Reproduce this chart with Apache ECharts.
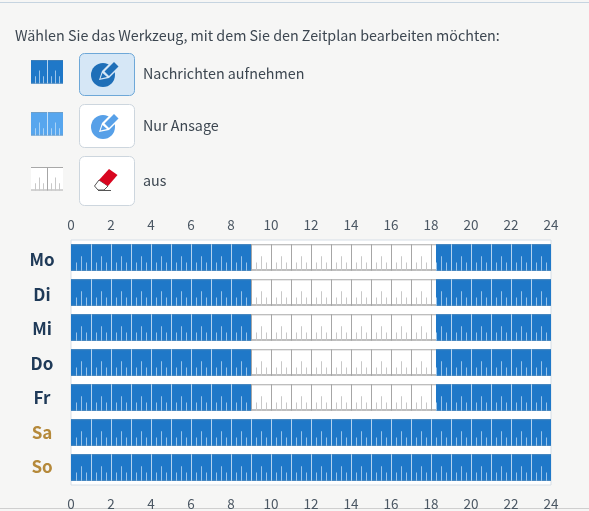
<!DOCTYPE html>
<html>
<head>
<meta charset="utf-8">
<script src="https://cdn.jsdelivr.net/npm/echarts@6/dist/echarts.min.js"></script>
<style>
  html, body { margin: 0; padding: 0; background: #f6f6f5; }
  #chart { width: 589px; height: 511px; }
</style>
</head>
<body>
<div id="chart"></div>
<script>
// values
const days = ['Mo', 'Di', 'Mi', 'Do', 'Fr', 'Sa', 'So'];
const hourTicks = 2;
const weekdaySlotStarts = [0, 9, 18.25];
const weekdaySlotEnds = [9, 18.25, 24];
const weekdaySlotStates = ['record', 'off', 'record'];
const weekendSlotStarts = [0];
const weekendSlotEnds = [24];
const weekendSlotStates = ['record'];

const FONT = '"Noto Sans CJK SC", "Noto Sans", sans-serif';

const styles = {
  record: { fill: '#1f78c8', hour: '#b5d3ee', tick: '#9ac3e8', edge: '#3f7fb8', bottom: 1 },
  announce: { fill: '#57a6ee', hour: '#c4e0f8', tick: '#a9d2f5', edge: '#6f9fc8', bottom: 1 },
  off: { fill: '#ffffff', hour: '#a6a6a6', tick: '#c8c8c8', edge: '#a8a8a8', bottom: 1.5 }
};

// one ruler piece: coloured block, edges, hour lines, half and quarter ticks
function rulerChildren(x1, x2, top, h, startHour, endHour, pxPerHour, s) {
  const kids = [
    { type: 'rect', shape: { x: x1, y: top, width: x2 - x1, height: h }, style: { fill: s.fill } },
    { type: 'rect', shape: { x: x1, y: top, width: x2 - x1, height: 1 }, style: { fill: s.edge } },
    { type: 'rect', shape: { x: x1, y: top + h - s.bottom, width: x2 - x1, height: s.bottom }, style: { fill: s.edge } }
  ];
  for (let q = Math.ceil(startHour * 4); q < endHour * 4; q++) {
    const x = Math.round(x1 + (q / 4 - startHour) * pxPerHour);
    let len = h * 0.31, col = s.tick;
    if (q % 4 === 0) { len = h; col = s.hour; }
    else if (q % 2 === 0) { len = h * 0.55; }
    if (q === 0) continue;
    kids.push({ type: 'rect', shape: { x: x, y: top + h - len, width: 1, height: len }, style: { fill: col } });
  }
  return kids;
}

function renderSlot(params, api) {
  const start = api.value(0), end = api.value(1), day = api.value(2);
  const s = styles[api.value(3)];
  const a = api.coord([start, day]);
  const b = api.coord([end, day]);
  const h = api.size([0, 1])[1] * 0.757;
  return {
    type: 'group',
    children: rulerChildren(a[0], b[0], a[1] - h / 2, h, start, end, (b[0] - a[0]) / (end - start), s)
  };
}

function slotRows() {
  const rows = [];
  days.forEach(function (d, i) {
    const weekend = i > 4;
    const starts = weekend ? weekendSlotStarts : weekdaySlotStarts;
    const ends = weekend ? weekendSlotEnds : weekdaySlotEnds;
    const states = weekend ? weekendSlotStates : weekdaySlotStates;
    starts.forEach(function (st, k) { rows.push([st, ends[k], i, states[k]]); });
  });
  return rows;
}

function label(x, y, txt, size, color) {
  return { type: 'text', x: x, y: y, style: { text: txt, fontFamily: FONT, fontSize: size, fill: color, verticalAlign: 'middle' } };
}

function button(y, h, fill, stroke) {
  return { type: 'rect', shape: { x: 79.5, y: y + 0.5, width: 55, height: h, r: 5 }, style: { fill: fill, stroke: stroke, lineWidth: 1 } };
}

function swatch(y, s) {
  return { type: 'group', children: rulerChildren(31, 63, y, 23.5, 0, 2, 16, Object.assign({}, s, { bottom: 1 })) };
}

function pencilIcon(cy, color, outline) {
  return {
    type: 'group',
    children: [
      { type: 'circle', shape: { cx: 103, cy: cy, r: 12 }, style: { fill: color } },
      // halo round the pencil
      { type: 'polygon', shape: { points: [[99, cy + 5], [102, cy - 4], [113, cy - 15], [120, cy - 8], [109, cy + 3]] }, style: { fill: outline } },
      // shaft
      { type: 'polygon', shape: { points: [[104.5, cy - 3.5], [114, cy - 13], [118.5, cy - 8.5], [109, cy + 1]] }, style: { fill: color } },
      // tip
      { type: 'polygon', shape: { points: [[100.5, cy + 3.5], [102.5, cy - 2], [107, cy + 2]] }, style: { fill: color } }
    ]
  };
}

function eraserIcon() {
  return {
    type: 'group',
    children: [
      { type: 'polygon', shape: { points: [[99, 180], [108, 186], [104, 190], [98, 190], [94.5, 186]] }, style: { fill: '#ffffff', stroke: '#555555', lineWidth: 1 } },
      { type: 'polygon', shape: { points: [[99, 180], [109, 169], [117.5, 175], [108, 186]] }, style: { fill: '#d8051f' } },
      { type: 'line', shape: { x1: 98, y1: 190.5, x2: 111, y2: 190.5 }, style: { stroke: '#555555', lineWidth: 1 } }
    ]
  };
}

const myChart = echarts.init(document.getElementById('chart'));

const hourAxis = {
  type: 'value',
  gridIndex: 0,
  min: 0,
  max: 24,
  interval: hourTicks,
  axisLine: { show: false },
  axisTick: { show: false },
  splitLine: { show: false }
};

myChart.setOption({
  backgroundColor: '#f6f6f5',
  animation: false,
  grid: [{
    show: true,
    left: 71,
    top: 240,
    width: 480,
    height: 245,
    backgroundColor: '#ffffff',
    borderColor: '#d6dee6',
    borderWidth: 1
  }, {
    // day names sit slightly tighter than the rows
    left: 71,
    top: 242.5,
    width: 480,
    height: 241.5
  }],
  xAxis: [
    Object.assign({}, hourAxis, {
      position: 'top',
      axisLabel: { margin: 8, fontFamily: FONT, fontSize: 13.5, color: '#4b5763' }
    }),
    Object.assign({}, hourAxis, {
      position: 'bottom',
      axisLabel: { margin: 12, fontFamily: FONT, fontSize: 13.5, color: '#4b5763' }
    }),
    { type: 'value', gridIndex: 1, show: false }
  ],
  yAxis: [{
    type: 'category',
    gridIndex: 0,
    inverse: true,
    data: days,
    axisLine: { show: false },
    axisTick: { show: false },
    axisLabel: { show: false }
  }, {
    type: 'category',
    gridIndex: 1,
    inverse: true,
    data: days,
    axisLine: { show: false },
    axisTick: { show: false },
    axisLabel: {
      margin: 29,
      align: 'center',
      fontFamily: FONT,
      fontSize: 17,
      fontWeight: 'bold',
      color: function (v) { return v === 'Sa' || v === 'So' ? '#b5893a' : '#1f3a58'; }
    }
  }],
  series: [{
    type: 'custom',
    renderItem: renderSlot,
    xAxisIndex: 0,
    yAxisIndex: 0,
    encode: { x: [0, 1], y: 2 },
    data: slotRows()
  }],
  graphic: [
    { type: 'rect', shape: { x: 0, y: 2, width: 589, height: 1 }, style: { fill: '#c6d4e0' } },
    { type: 'rect', shape: { x: 0, y: 508, width: 589, height: 1 }, style: { fill: '#cfcfcf' } },
    label(15, 35.5, 'Wählen Sie das Werkzeug, mit dem Sie den Zeitplan bearbeiten möchten:', 14.3, '#3c4650'),
    swatch(60, styles.record),
    swatch(112, styles.announce),
    swatch(167, styles.off),
    button(53, 42, '#d6e7f6', '#6ea8d8'),
    button(104, 43, '#ffffff', '#cdd6de'),
    button(156, 49, '#ffffff', '#cdd6de'),
    pencilIcon(75, '#1f6fb8', '#d6e7f6'),
    pencilIcon(127, '#57a0e8', '#ffffff'),
    eraserIcon(),
    label(143, 73.5, 'Nachrichten aufnehmen', 14.3, '#3c4650'),
    label(143, 125.5, 'Nur Ansage', 14.3, '#3c4650'),
    label(143, 180.5, 'aus', 14.3, '#3c4650')
  ]
});
</script>
</body>
</html>
